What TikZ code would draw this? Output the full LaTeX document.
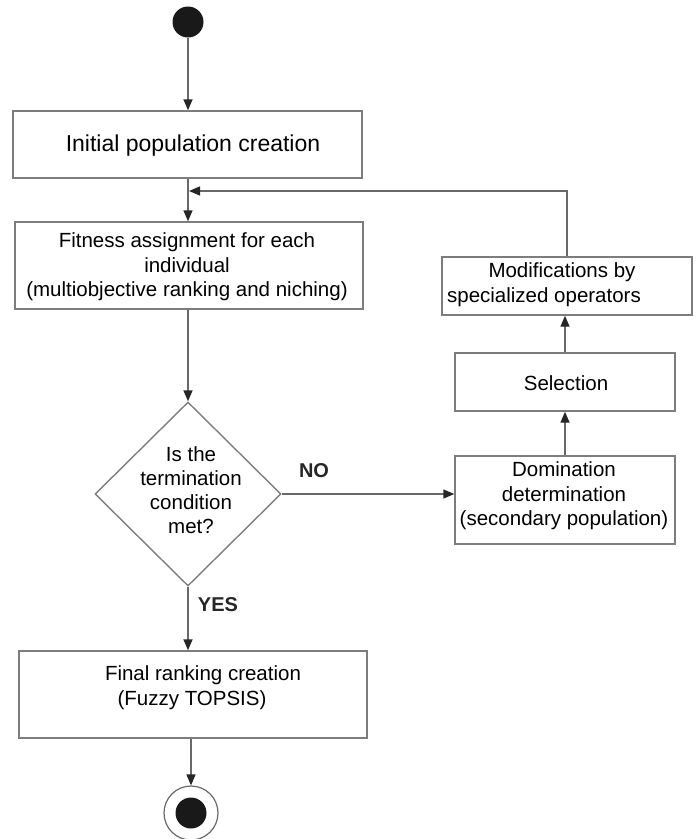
\documentclass[tikz,border=0pt]{standalone}
\usepackage{fontspec}
\setmainfont{Liberation Sans}
\usetikzlibrary{arrows.meta,shapes.geometric}
\definecolor{ln}{RGB}{105,105,105}
\definecolor{bx}{RGB}{125,125,125}
\begin{document}
\begin{tikzpicture}[x=1pt,y=-1pt,
  box/.style={draw=bx,line width=1.4pt,rectangle,inner sep=0pt},
  txt/.style={font=\fontsize{20.5}{24.5}\selectfont,align=center,inner sep=0pt,text=black},
  lbl/.style={font=\fontsize{20}{24}\selectfont\bfseries,inner sep=0pt,text=black!85},
  conn/.style={draw=ln,line width=1.4pt,-{Triangle[length=11pt,width=9pt,color=black!85]}},
  plain/.style={draw=ln,line width=1.4pt}]
\useasboundingbox (0,0) rectangle (699,839);
% nodes
\node[circle,fill=black!90,minimum size=31pt,inner sep=0pt] (start) at (188,22) {};
\node[box,minimum width=349pt,minimum height=67pt] (init) at (187.5,144.5) {};
\node[txt,font=\fontsize{23}{27}\selectfont] (initT) at (193,146) {Initial population creation};
\node[box,minimum width=348pt,minimum height=87pt] (fit) at (189,265.5) {};
\node[txt] (fitT) at (187,267) {Fitness assignment for each\\individual\\(multiobjective ranking and niching)};
\node[diamond,draw=bx,line width=1.4pt,minimum width=186pt,minimum height=184pt,inner sep=0pt] (dia) at (188,494) {};
\node[txt,font=\fontsize{20.5}{24}\selectfont] (diaT) at (191,490) {Is the\\termination\\condition\\met?};
\node[box,minimum width=250pt,minimum height=58pt] (mod) at (567,286) {};
\node[txt] (modA) at (562,272) {Modifications by};
\node[txt] (modB) at (544,297) {specialized operators};
\node[box,minimum width=220pt,minimum height=58pt] (sel) at (565,382) {};
\node[txt] (selT) at (566,383) {Selection};
\node[box,minimum width=220pt,minimum height=88pt] (dom) at (565,500) {};
\node[txt] (domT) at (564,496) {Domination\\determination\\(secondary population)};
\node[box,minimum width=348pt,minimum height=87pt] (fin) at (193,694.5) {};
\node[txt] (finA) at (203,675) {Final ranking creation};
\node[txt] (finB) at (192,700) {(Fuzzy TOPSIS)};
\node[circle,draw=ln,line width=1.2pt,minimum size=54pt,inner sep=0pt] (end) at (191,813) {};
\node[circle,fill=black!90,minimum size=31pt,inner sep=0pt] (endIn) at (191,813) {};
\coordinate (fb) at (189,191);
% connectors
\draw[conn] (start.south) -- (init.north -| start.south);
\draw[conn] (init.south -| start) -- (fit.north -| start);
\draw[conn] (mod.north) |- (fb);
\draw[conn] (fit.south -| dia.north) -- (dia.north);
\draw[conn] (dia.east) -- (dom.west |- dia.east);
\draw[conn] (dia.south) -- (fin.north -| dia.south);
\draw[conn] (fin.south -| end.north) -- (end.north);
\draw[conn] (dom.north) -- (sel.south);
\draw[conn] (sel.north) -- (mod.south -| sel.north);
% labels
\node[lbl] (no) at (314,471) {NO};
\node[lbl] (yes) at (218,605) {YES};
\end{tikzpicture}
\end{document}
